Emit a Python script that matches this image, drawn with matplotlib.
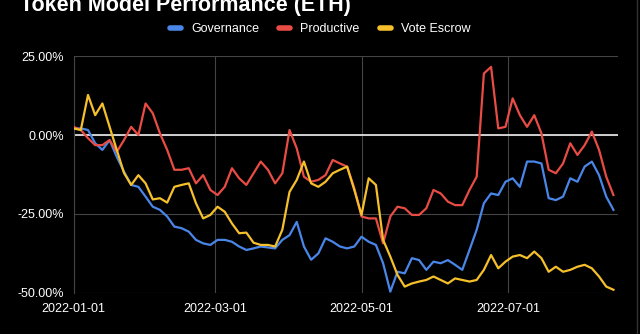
import pandas as pd
import matplotlib.pyplot as plt
import matplotlib.dates as mdates
from matplotlib.ticker import FuncFormatter
from matplotlib.lines import Line2D

plt.rcParams['font.family'] = ['Liberation Sans', 'DejaVu Sans']

# Dates every 3 days from 2022-01-01
dates = pd.date_range('2022-01-01', periods=76, freq='3D')

governance = [2.1, 2.1, 1.6, -2.6, -4.7, -1.6, -6.9, -11.6, -15.8, -16.4,
              -19.5, -22.7, -23.7, -25.8, -29.0, -29.5, -30.6, -33.2, -34.3, -34.8,
              -33.2, -33.2, -33.8, -35.3, -36.4, -35.9, -35.3, -35.6, -35.9, -33.2,
              -31.7, -27.5, -35.3, -39.5, -37.5, -32.7, -33.8, -35.3,
              -35.9, -35.3, -32.2, -33.8, -34.8, -40.6, -49.6, -43.3, -43.8, -39.0,
              -39.6, -42.7, -40.1, -40.6, -39.6, -41.1, -42.7, -36.4, -30.0,
              -21.6, -18.5, -19.0, -14.8, -13.7, -16.4, -8.4, -8.4, -9.0, -20.0,
              -20.6, -19.5, -13.7, -14.8, -10.0, -8.4, -12.7, -19.5, -23.7]

productive = [2.6, 1.6, -1.0, -3.2, -3.2, -1.6, -5.3, -1.6, 2.6, 0.0,
              10.0, 6.9, 0.5, -4.7, -11.0, -11.0, -10.5, -15.3, -12.7, -17.4,
              -19.0, -16.4, -10.5, -13.7, -15.8, -12.1, -8.4, -11.0, -15.3, -12.1,
              1.6, -4.2, -13.2, -14.8, -14.2, -12.7, -7.9, -9.0,
              -10.0, -16.9, -25.8, -26.4, -26.4, -34.3, -25.8, -22.7, -23.2, -25.3,
              -25.3, -23.2, -17.4, -18.5, -21.1, -22.2, -22.2, -17.4, -13.2,
              19.5, 21.6, 2.1, 2.6, 11.6, 6.3, 2.6, 6.3, 0.5, -11.0,
              -12.1, -9.0, -2.6, -6.3, -3.2, 1.1, -4.7, -13.2, -19.0]

vote_escrow = [2.1, 1.6, 12.7, 6.3, 10.0, 2.6, -4.7, -12.0, -15.8, -12.7,
               -15.3, -20.4, -20.0, -21.4, -16.4, -15.8, -15.3, -21.6, -26.4, -25.3,
               -22.7, -24.3, -28.0, -31.1, -30.9, -34.1, -34.8, -34.8, -35.3, -30.0,
               -18.0, -14.2, -8.4, -15.3, -16.4, -14.8, -12.1, -11.0,
               -10.0, -17.4, -25.3, -13.7, -15.8, -33.2, -38.5, -44.3, -48.0, -47.0,
               -46.4, -45.9, -44.8, -45.9, -47.0, -45.4, -45.9, -46.4, -45.9,
               -42.7, -38.0, -42.2, -40.1, -38.5, -38.0, -39.0, -36.9, -39.0, -43.3,
               -41.7, -43.3, -42.7, -41.7, -41.1, -42.2, -44.8, -48.0, -49.0]

series_names = ['Governance', 'Productive', 'Vote Escrow']
series_colors = ['#4a86e8', '#e84c44', '#f6c02b']
tick_dates = ['2022-01-01', '2022-03-01', '2022-05-01', '2022-07-01']

fig = plt.figure(figsize=(6.4, 3.34), dpi=100, facecolor='black')
ax = fig.add_axes([0.115, 0.123, 0.851, 0.709], facecolor='black')

for values, name, color in zip([governance, productive, vote_escrow], series_names, series_colors):
    ax.plot(dates, values, color=color, lw=1.6, label=name, zorder=3)

# Axis limits and ticks
ax.set_ylim(-50, 25)
ax.set_yticks([-50, -25, 0, 25])
ax.yaxis.set_major_formatter(FuncFormatter(lambda v, p: f'{v:.2f}%'))
ax.set_xlim(pd.Timestamp('2022-01-01'), pd.Timestamp('2022-08-16'))
ax.set_xticks(pd.to_datetime(tick_dates))
ax.xaxis.set_major_formatter(mdates.DateFormatter('%Y-%m-%d'))
ax.tick_params(colors='white', labelsize=9, length=0, pad=7)

# Grid lines, zero line stands out
ax.grid(True, color='#444444', lw=0.8, zorder=0)
ax.axhline(0, color='#dddddd', lw=1.3, zorder=2)
for side in ['top', 'right', 'bottom']:
    ax.spines[side].set_visible(False)
ax.spines['left'].set_color('#444444')

ax.set_xlabel('Date', color='white', fontsize=9, labelpad=17)

# Title and legend
fig.text(0.031, 0.966, 'Token Model Performance (ETH)', color='white',
         fontsize=15.5, fontweight='bold', va='baseline', ha='left')
handles = [Line2D([0], [0], color=c, lw=4, solid_capstyle='round') for c in series_colors]
fig.legend(handles, series_names, loc='center', bbox_to_anchor=(0.5, 0.913), ncol=3,
           frameon=False, fontsize=9, labelcolor='white', handlelength=0.9,
           handletextpad=0.8, columnspacing=1.6)

# Thin border at right edge of the screenshot
fig.add_artist(Line2D([0.995, 0.995], [0, 1], color='#333333', lw=1, transform=fig.transFigure))

plt.savefig('out.png', dpi=100, facecolor='black')
